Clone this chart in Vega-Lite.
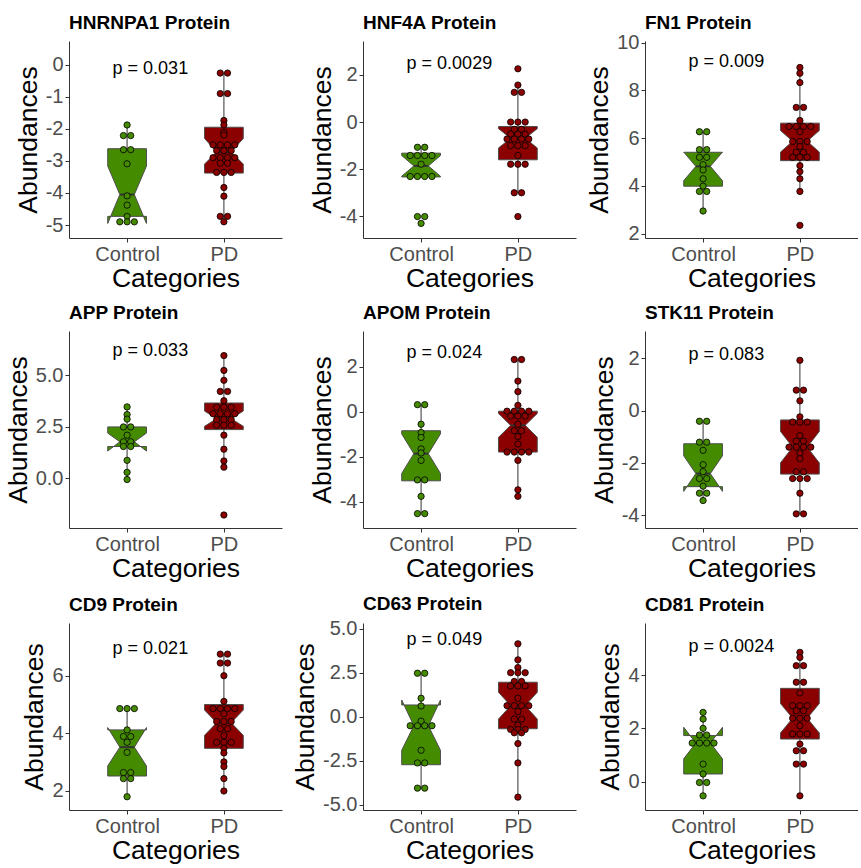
{
"$schema": "https://vega.github.io/schema/vega-lite/v6.json",
"padding": {"left": 5, "top": 13, "right": 0, "bottom": 0},
"datasets": {
"box": [
{"panel":"HNRNPA1","g":"Control","lo":-4.9,"q1":-4.73,"nl":-4.95,"med":-4.05,"nu":-3.16,"q3":-2.62,"hi":-1.88},
{"panel":"HNRNPA1","g":"PD","lo":-4.9,"q1":-3.38,"nl":-3.1,"med":-2.72,"nu":-2.3,"q3":-1.95,"hi":-0.26},
{"panel":"HNF4A","g":"Control","lo":-2.33,"q1":-2.33,"nl":-2.3,"med":-1.86,"nu":-1.42,"q3":-1.32,"hi":-1.07},
{"panel":"HNF4A","g":"PD","lo":-3.0,"q1":-1.6,"nl":-1.1,"med":-0.69,"nu":-0.28,"q3":-0.19,"hi":1.57},
{"panel":"FN1","g":"Control","lo":2.95,"q1":3.99,"nl":4.22,"med":4.82,"nu":5.42,"q3":5.41,"hi":6.27},
{"panel":"FN1","g":"PD","lo":3.77,"q1":5.06,"nl":5.42,"med":5.87,"nu":6.32,"q3":6.63,"hi":8.96},
{"panel":"APP","g":"Control","lo":-0.05,"q1":1.55,"nl":1.33,"med":1.78,"nu":2.2,"q3":2.5,"hi":3.47},
{"panel":"APP","g":"PD","lo":0.55,"q1":2.37,"nl":2.53,"med":2.9,"nu":3.27,"q3":3.66,"hi":5.96},
{"panel":"APOM","g":"Control","lo":-4.53,"q1":-3.07,"nl":-2.74,"med":-1.86,"nu":-0.98,"q3":-0.84,"hi":0.32},
{"panel":"APOM","g":"PD","lo":-3.76,"q1":-1.79,"nl":-1.13,"med":-0.6,"nu":-0.07,"q3":0.03,"hi":2.33},
{"panel":"STK11","g":"Control","lo":-3.43,"q1":-2.9,"nl":-3.08,"med":-2.4,"nu":-1.72,"q3":-1.26,"hi":-0.4},
{"panel":"STK11","g":"PD","lo":-3.94,"q1":-2.42,"nl":-1.99,"med":-1.39,"nu":-0.79,"q3":-0.35,"hi":1.93},
{"panel":"CD9","g":"Control","lo":1.8,"q1":2.52,"nl":2.87,"med":3.52,"nu":4.2,"q3":4.12,"hi":4.86},
{"panel":"CD9","g":"PD","lo":2.0,"q1":3.48,"nl":3.93,"med":4.37,"nu":4.81,"q3":5.0,"hi":6.75},
{"panel":"CD63","g":"Control","lo":-4.05,"q1":-2.72,"nl":-1.9,"med":-0.51,"nu":0.95,"q3":0.67,"hi":2.47},
{"panel":"CD63","g":"PD","lo":-4.56,"q1":-0.68,"nl":-0.13,"med":0.63,"nu":1.39,"q3":1.96,"hi":4.14},
{"panel":"CD81","g":"Control","lo":-0.53,"q1":0.29,"nl":0.86,"med":1.45,"nu":2.04,"q3":1.73,"hi":2.6},
{"panel":"CD81","g":"PD","lo":-0.53,"q1":1.6,"nl":1.83,"med":2.38,"nu":2.93,"q3":3.5,"hi":4.85}
],
"pv": [
{"panel":"HNRNPA1","label":"p = 0.031","y":-0.14},
{"panel":"HNF4A","label":"p = 0.0029","y":2.47},
{"panel":"FN1","label":"p = 0.009","y":9.17},
{"panel":"APP","label":"p = 0.033","y":6.19},
{"panel":"APOM","label":"p = 0.024","y":2.6},
{"panel":"STK11","label":"p = 0.083","y":2.12},
{"panel":"CD9","label":"p = 0.021","y":6.93},
{"panel":"CD63","label":"p = 0.049","y":4.37},
{"panel":"CD81","label":"p = 0.0024","y":5.04}
],
"pts": [
{"panel":"HNRNPA1","g":"Control","y":-1.88},{"panel":"HNRNPA1","g":"Control","y":-2.21},{"panel":"HNRNPA1","g":"Control","y":-2.21},{"panel":"HNRNPA1","g":"Control","y":-2.65},{"panel":"HNRNPA1","g":"Control","y":-2.65},{"panel":"HNRNPA1","g":"Control","y":-3.09},{"panel":"HNRNPA1","g":"Control","y":-4.09},{"panel":"HNRNPA1","g":"Control","y":-4.38},{"panel":"HNRNPA1","g":"Control","y":-4.73},{"panel":"HNRNPA1","g":"Control","y":-4.9},{"panel":"HNRNPA1","g":"Control","y":-4.9},{"panel":"HNRNPA1","g":"Control","y":-4.9},
{"panel":"HNRNPA1","g":"PD","y":-0.26},{"panel":"HNRNPA1","g":"PD","y":-0.26},{"panel":"HNRNPA1","g":"PD","y":-0.9},{"panel":"HNRNPA1","g":"PD","y":-0.9},{"panel":"HNRNPA1","g":"PD","y":-1.74},{"panel":"HNRNPA1","g":"PD","y":-1.88},{"panel":"HNRNPA1","g":"PD","y":-2.11},{"panel":"HNRNPA1","g":"PD","y":-2.19},{"panel":"HNRNPA1","g":"PD","y":-2.5},{"panel":"HNRNPA1","g":"PD","y":-2.5},{"panel":"HNRNPA1","g":"PD","y":-2.5},{"panel":"HNRNPA1","g":"PD","y":-2.5},{"panel":"HNRNPA1","g":"PD","y":-2.68},{"panel":"HNRNPA1","g":"PD","y":-2.68},{"panel":"HNRNPA1","g":"PD","y":-2.68},{"panel":"HNRNPA1","g":"PD","y":-2.9},{"panel":"HNRNPA1","g":"PD","y":-2.9},{"panel":"HNRNPA1","g":"PD","y":-2.9},{"panel":"HNRNPA1","g":"PD","y":-2.9},{"panel":"HNRNPA1","g":"PD","y":-3.07},{"panel":"HNRNPA1","g":"PD","y":-3.07},{"panel":"HNRNPA1","g":"PD","y":-3.36},{"panel":"HNRNPA1","g":"PD","y":-3.36},{"panel":"HNRNPA1","g":"PD","y":-3.36},{"panel":"HNRNPA1","g":"PD","y":-3.83},{"panel":"HNRNPA1","g":"PD","y":-4.1},{"panel":"HNRNPA1","g":"PD","y":-4.73},{"panel":"HNRNPA1","g":"PD","y":-4.73},{"panel":"HNRNPA1","g":"PD","y":-4.9},
{"panel":"HNF4A","g":"Control","y":-1.07},{"panel":"HNF4A","g":"Control","y":-1.07},{"panel":"HNF4A","g":"Control","y":-1.42},{"panel":"HNF4A","g":"Control","y":-1.42},{"panel":"HNF4A","g":"Control","y":-1.42},{"panel":"HNF4A","g":"Control","y":-1.42},{"panel":"HNF4A","g":"Control","y":-1.79},{"panel":"HNF4A","g":"Control","y":-2.31},{"panel":"HNF4A","g":"Control","y":-2.31},{"panel":"HNF4A","g":"Control","y":-2.31},{"panel":"HNF4A","g":"Control","y":-2.31},{"panel":"HNF4A","g":"Control","y":-4.01},{"panel":"HNF4A","g":"Control","y":-4.01},{"panel":"HNF4A","g":"Control","y":-4.3},
{"panel":"HNF4A","g":"PD","y":2.26},{"panel":"HNF4A","g":"PD","y":1.57},{"panel":"HNF4A","g":"PD","y":1.26},{"panel":"HNF4A","g":"PD","y":1.26},{"panel":"HNF4A","g":"PD","y":0},{"panel":"HNF4A","g":"PD","y":0},{"panel":"HNF4A","g":"PD","y":0},{"panel":"HNF4A","g":"PD","y":-0.31},{"panel":"HNF4A","g":"PD","y":-0.31},{"panel":"HNF4A","g":"PD","y":-0.51},{"panel":"HNF4A","g":"PD","y":-0.51},{"panel":"HNF4A","g":"PD","y":-0.51},{"panel":"HNF4A","g":"PD","y":-0.72},{"panel":"HNF4A","g":"PD","y":-0.72},{"panel":"HNF4A","g":"PD","y":-0.72},{"panel":"HNF4A","g":"PD","y":-0.72},{"panel":"HNF4A","g":"PD","y":-1.0},{"panel":"HNF4A","g":"PD","y":-1.0},{"panel":"HNF4A","g":"PD","y":-1.0},{"panel":"HNF4A","g":"PD","y":-1.42},{"panel":"HNF4A","g":"PD","y":-1.79},{"panel":"HNF4A","g":"PD","y":-1.79},{"panel":"HNF4A","g":"PD","y":-1.79},{"panel":"HNF4A","g":"PD","y":-3.0},{"panel":"HNF4A","g":"PD","y":-3.0},{"panel":"HNF4A","g":"PD","y":-4.01},
{"panel":"FN1","g":"Control","y":6.27},{"panel":"FN1","g":"Control","y":6.27},{"panel":"FN1","g":"Control","y":5.52},{"panel":"FN1","g":"Control","y":5.52},{"panel":"FN1","g":"Control","y":5.2},{"panel":"FN1","g":"Control","y":5.2},{"panel":"FN1","g":"Control","y":4.89},{"panel":"FN1","g":"Control","y":4.67},{"panel":"FN1","g":"Control","y":4.3},{"panel":"FN1","g":"Control","y":3.99},{"panel":"FN1","g":"Control","y":3.77},{"panel":"FN1","g":"Control","y":3.77},{"panel":"FN1","g":"Control","y":2.95},
{"panel":"FN1","g":"PD","y":8.96},{"panel":"FN1","g":"PD","y":8.72},{"panel":"FN1","g":"PD","y":8.33},{"panel":"FN1","g":"PD","y":7.29},{"panel":"FN1","g":"PD","y":7.29},{"panel":"FN1","g":"PD","y":6.74},{"panel":"FN1","g":"PD","y":6.49},{"panel":"FN1","g":"PD","y":6.49},{"panel":"FN1","g":"PD","y":6.49},{"panel":"FN1","g":"PD","y":6.49},{"panel":"FN1","g":"PD","y":6.27},{"panel":"FN1","g":"PD","y":5.86},{"panel":"FN1","g":"PD","y":5.86},{"panel":"FN1","g":"PD","y":5.86},{"panel":"FN1","g":"PD","y":5.65},{"panel":"FN1","g":"PD","y":5.41},{"panel":"FN1","g":"PD","y":5.41},{"panel":"FN1","g":"PD","y":5.2},{"panel":"FN1","g":"PD","y":5.2},{"panel":"FN1","g":"PD","y":5.2},{"panel":"FN1","g":"PD","y":4.85},{"panel":"FN1","g":"PD","y":4.6},{"panel":"FN1","g":"PD","y":4.3},{"panel":"FN1","g":"PD","y":3.77},{"panel":"FN1","g":"PD","y":2.35},
{"panel":"APP","g":"Control","y":3.47},{"panel":"APP","g":"Control","y":3.1},{"panel":"APP","g":"Control","y":2.88},{"panel":"APP","g":"Control","y":2.5},{"panel":"APP","g":"Control","y":2.5},{"panel":"APP","g":"Control","y":2.1},{"panel":"APP","g":"Control","y":1.78},{"panel":"APP","g":"Control","y":1.78},{"panel":"APP","g":"Control","y":1.55},{"panel":"APP","g":"Control","y":1.55},{"panel":"APP","g":"Control","y":0.88},{"panel":"APP","g":"Control","y":0.3},{"panel":"APP","g":"Control","y":-0.05},
{"panel":"APP","g":"PD","y":5.96},{"panel":"APP","g":"PD","y":5.24},{"panel":"APP","g":"PD","y":4.76},{"panel":"APP","g":"PD","y":4.22},{"panel":"APP","g":"PD","y":4.22},{"panel":"APP","g":"PD","y":3.77},{"panel":"APP","g":"PD","y":3.46},{"panel":"APP","g":"PD","y":3.46},{"panel":"APP","g":"PD","y":3.46},{"panel":"APP","g":"PD","y":3.14},{"panel":"APP","g":"PD","y":3.14},{"panel":"APP","g":"PD","y":3.14},{"panel":"APP","g":"PD","y":3.14},{"panel":"APP","g":"PD","y":2.85},{"panel":"APP","g":"PD","y":2.85},{"panel":"APP","g":"PD","y":2.85},{"panel":"APP","g":"PD","y":2.58},{"panel":"APP","g":"PD","y":2.58},{"panel":"APP","g":"PD","y":2.58},{"panel":"APP","g":"PD","y":2.1},{"panel":"APP","g":"PD","y":1.42},{"panel":"APP","g":"PD","y":0.85},{"panel":"APP","g":"PD","y":0.55},{"panel":"APP","g":"PD","y":-1.77},
{"panel":"APOM","g":"Control","y":0.32},{"panel":"APOM","g":"Control","y":0.32},{"panel":"APOM","g":"Control","y":-0.55},{"panel":"APOM","g":"Control","y":-0.92},{"panel":"APOM","g":"Control","y":-1.14},{"panel":"APOM","g":"Control","y":-1.65},{"panel":"APOM","g":"Control","y":-1.83},{"panel":"APOM","g":"Control","y":-2.16},{"panel":"APOM","g":"Control","y":-3.03},{"panel":"APOM","g":"Control","y":-3.03},{"panel":"APOM","g":"Control","y":-3.76},{"panel":"APOM","g":"Control","y":-4.53},{"panel":"APOM","g":"Control","y":-4.53},
{"panel":"APOM","g":"PD","y":2.33},{"panel":"APOM","g":"PD","y":2.33},{"panel":"APOM","g":"PD","y":1.37},{"panel":"APOM","g":"PD","y":0.9},{"panel":"APOM","g":"PD","y":0.29},{"panel":"APOM","g":"PD","y":0.03},{"panel":"APOM","g":"PD","y":0.03},{"panel":"APOM","g":"PD","y":0.03},{"panel":"APOM","g":"PD","y":0.03},{"panel":"APOM","g":"PD","y":-0.19},{"panel":"APOM","g":"PD","y":-0.19},{"panel":"APOM","g":"PD","y":-0.19},{"panel":"APOM","g":"PD","y":-0.55},{"panel":"APOM","g":"PD","y":-0.84},{"panel":"APOM","g":"PD","y":-0.84},{"panel":"APOM","g":"PD","y":-1.1},{"panel":"APOM","g":"PD","y":-1.43},{"panel":"APOM","g":"PD","y":-1.79},{"panel":"APOM","g":"PD","y":-1.79},{"panel":"APOM","g":"PD","y":-1.79},{"panel":"APOM","g":"PD","y":-1.79},{"panel":"APOM","g":"PD","y":-2.16},{"panel":"APOM","g":"PD","y":-3.47},{"panel":"APOM","g":"PD","y":-3.76},
{"panel":"STK11","g":"Control","y":-0.4},{"panel":"STK11","g":"Control","y":-0.4},{"panel":"STK11","g":"Control","y":-1.2},{"panel":"STK11","g":"Control","y":-1.2},{"panel":"STK11","g":"Control","y":-1.51},{"panel":"STK11","g":"Control","y":-2.06},{"panel":"STK11","g":"Control","y":-2.33},{"panel":"STK11","g":"Control","y":-2.59},{"panel":"STK11","g":"Control","y":-2.59},{"panel":"STK11","g":"Control","y":-2.88},{"panel":"STK11","g":"Control","y":-3.15},{"panel":"STK11","g":"Control","y":-3.15},{"panel":"STK11","g":"Control","y":-3.43},
{"panel":"STK11","g":"PD","y":1.93},{"panel":"STK11","g":"PD","y":0.79},{"panel":"STK11","g":"PD","y":0.79},{"panel":"STK11","g":"PD","y":0.38},{"panel":"STK11","g":"PD","y":-0.23},{"panel":"STK11","g":"PD","y":-0.43},{"panel":"STK11","g":"PD","y":-0.43},{"panel":"STK11","g":"PD","y":-0.43},{"panel":"STK11","g":"PD","y":-0.95},{"panel":"STK11","g":"PD","y":-1.16},{"panel":"STK11","g":"PD","y":-1.16},{"panel":"STK11","g":"PD","y":-1.39},{"panel":"STK11","g":"PD","y":-1.39},{"panel":"STK11","g":"PD","y":-1.39},{"panel":"STK11","g":"PD","y":-1.39},{"panel":"STK11","g":"PD","y":-1.62},{"panel":"STK11","g":"PD","y":-1.83},{"panel":"STK11","g":"PD","y":-2.33},{"panel":"STK11","g":"PD","y":-2.33},{"panel":"STK11","g":"PD","y":-2.59},{"panel":"STK11","g":"PD","y":-2.59},{"panel":"STK11","g":"PD","y":-2.59},{"panel":"STK11","g":"PD","y":-3.15},{"panel":"STK11","g":"PD","y":-3.94},{"panel":"STK11","g":"PD","y":-3.94},
{"panel":"CD9","g":"Control","y":4.86},{"panel":"CD9","g":"Control","y":4.86},{"panel":"CD9","g":"Control","y":4.86},{"panel":"CD9","g":"Control","y":4.12},{"panel":"CD9","g":"Control","y":3.89},{"panel":"CD9","g":"Control","y":3.89},{"panel":"CD9","g":"Control","y":3.69},{"panel":"CD9","g":"Control","y":3.34},{"panel":"CD9","g":"Control","y":2.64},{"panel":"CD9","g":"Control","y":2.64},{"panel":"CD9","g":"Control","y":2.43},{"panel":"CD9","g":"Control","y":2.43},{"panel":"CD9","g":"Control","y":1.8},
{"panel":"CD9","g":"PD","y":6.75},{"panel":"CD9","g":"PD","y":6.75},{"panel":"CD9","g":"PD","y":6.44},{"panel":"CD9","g":"PD","y":6.44},{"panel":"CD9","g":"PD","y":6.0},{"panel":"CD9","g":"PD","y":5.11},{"panel":"CD9","g":"PD","y":4.86},{"panel":"CD9","g":"PD","y":4.86},{"panel":"CD9","g":"PD","y":4.86},{"panel":"CD9","g":"PD","y":4.86},{"panel":"CD9","g":"PD","y":4.68},{"panel":"CD9","g":"PD","y":4.41},{"panel":"CD9","g":"PD","y":4.41},{"panel":"CD9","g":"PD","y":4.41},{"panel":"CD9","g":"PD","y":4.16},{"panel":"CD9","g":"PD","y":4.16},{"panel":"CD9","g":"PD","y":3.92},{"panel":"CD9","g":"PD","y":3.69},{"panel":"CD9","g":"PD","y":3.69},{"panel":"CD9","g":"PD","y":3.69},{"panel":"CD9","g":"PD","y":3.48},{"panel":"CD9","g":"PD","y":3.32},{"panel":"CD9","g":"PD","y":3.01},{"panel":"CD9","g":"PD","y":2.85},{"panel":"CD9","g":"PD","y":2.43},{"panel":"CD9","g":"PD","y":2.0},
{"panel":"CD63","g":"Control","y":2.47},{"panel":"CD63","g":"Control","y":2.47},{"panel":"CD63","g":"Control","y":1.05},{"panel":"CD63","g":"Control","y":0.61},{"panel":"CD63","g":"Control","y":-0.25},{"panel":"CD63","g":"Control","y":-0.51},{"panel":"CD63","g":"Control","y":-0.51},{"panel":"CD63","g":"Control","y":-0.51},{"panel":"CD63","g":"Control","y":-0.51},{"panel":"CD63","g":"Control","y":-1.9},{"panel":"CD63","g":"Control","y":-2.62},{"panel":"CD63","g":"Control","y":-2.62},{"panel":"CD63","g":"Control","y":-4.05},{"panel":"CD63","g":"Control","y":-4.05},
{"panel":"CD63","g":"PD","y":4.14},{"panel":"CD63","g":"PD","y":3.23},{"panel":"CD63","g":"PD","y":2.79},{"panel":"CD63","g":"PD","y":2.5},{"panel":"CD63","g":"PD","y":2.5},{"panel":"CD63","g":"PD","y":2.5},{"panel":"CD63","g":"PD","y":2.0},{"panel":"CD63","g":"PD","y":2.0},{"panel":"CD63","g":"PD","y":1.75},{"panel":"CD63","g":"PD","y":1.75},{"panel":"CD63","g":"PD","y":1.75},{"panel":"CD63","g":"PD","y":1.05},{"panel":"CD63","g":"PD","y":0.63},{"panel":"CD63","g":"PD","y":0.63},{"panel":"CD63","g":"PD","y":0.63},{"panel":"CD63","g":"PD","y":0.63},{"panel":"CD63","g":"PD","y":0.29},{"panel":"CD63","g":"PD","y":-0.13},{"panel":"CD63","g":"PD","y":-0.13},{"panel":"CD63","g":"PD","y":-0.48},{"panel":"CD63","g":"PD","y":-0.72},{"panel":"CD63","g":"PD","y":-0.72},{"panel":"CD63","g":"PD","y":-0.72},{"panel":"CD63","g":"PD","y":-0.91},{"panel":"CD63","g":"PD","y":-0.91},{"panel":"CD63","g":"PD","y":-1.52},{"panel":"CD63","g":"PD","y":-2.62},{"panel":"CD63","g":"PD","y":-4.56},
{"panel":"CD81","g":"Control","y":2.6},{"panel":"CD81","g":"Control","y":2.35},{"panel":"CD81","g":"Control","y":2.0},{"panel":"CD81","g":"Control","y":1.75},{"panel":"CD81","g":"Control","y":1.75},{"panel":"CD81","g":"Control","y":1.45},{"panel":"CD81","g":"Control","y":1.45},{"panel":"CD81","g":"Control","y":1.45},{"panel":"CD81","g":"Control","y":1.45},{"panel":"CD81","g":"Control","y":0.66},{"panel":"CD81","g":"Control","y":0.29},{"panel":"CD81","g":"Control","y":-0.03},{"panel":"CD81","g":"Control","y":-0.03},{"panel":"CD81","g":"Control","y":-0.53},
{"panel":"CD81","g":"PD","y":4.85},{"panel":"CD81","g":"PD","y":4.66},{"panel":"CD81","g":"PD","y":4.35},{"panel":"CD81","g":"PD","y":4.35},{"panel":"CD81","g":"PD","y":3.73},{"panel":"CD81","g":"PD","y":3.73},{"panel":"CD81","g":"PD","y":3.33},{"panel":"CD81","g":"PD","y":2.85},{"panel":"CD81","g":"PD","y":2.85},{"panel":"CD81","g":"PD","y":2.85},{"panel":"CD81","g":"PD","y":2.66},{"panel":"CD81","g":"PD","y":2.66},{"panel":"CD81","g":"PD","y":2.38},{"panel":"CD81","g":"PD","y":2.38},{"panel":"CD81","g":"PD","y":2.38},{"panel":"CD81","g":"PD","y":2.1},{"panel":"CD81","g":"PD","y":1.79},{"panel":"CD81","g":"PD","y":1.79},{"panel":"CD81","g":"PD","y":1.79},{"panel":"CD81","g":"PD","y":1.41},{"panel":"CD81","g":"PD","y":1.16},{"panel":"CD81","g":"PD","y":1.16},{"panel":"CD81","g":"PD","y":0.66},{"panel":"CD81","g":"PD","y":0.66},{"panel":"CD81","g":"PD","y":-0.53}
]
},
"columns": 3,
"align": "each",
"spacing": {"row": 12, "column": 10},
"concat": [
{"title":{"text":"HNRNPA1 Protein"},"width":213,"height":197,
"encoding":{"x":{"field":"x","type":"quantitative","scale":{"domain":[0.4,2.6]},"axis":{"values":[1,2],"labelExpr":"datum.value==1?'Control':'PD'"},"title":"Categories"},
"y":{"field":"y","type":"quantitative","scale":{"domain":[-5.405,0.74]},"axis":{"values":[-5,-4,-3,-2,-1,0],"labelExpr":"replace(datum.label,'\u2212','-')"},"title":"Abundances"}},
"layer":[
{"data":{"name":"box"},"transform":[{"filter":"datum.panel=='HNRNPA1'"},{"calculate":"datum.g=='Control'?1:2","as":"x"}],"mark":{"type":"rule","stroke":"#333333","strokeWidth":1},"encoding":{"y":{"field":"lo","type":"quantitative","title":"Abundances"},"y2":{"field":"hi"}}},
{"data":{"name":"box"},"transform":[{"filter":"datum.panel=='HNRNPA1'"},{"calculate":"datum.q3","as":"top"},{"fold":["top","q3","nu","med","nl","q1"],"as":["k","y"]},{"calculate":"[-1,1]","as":"side"},{"flatten":["side"]},{"filter":"datum.k!='top' || datum.side>0"},{"calculate":"indexof(['q3','nu','med','nl','q1'],datum.k)","as":"i"},{"calculate":"(datum.g=='Control'?1:2)+(datum.k=='top'?-0.2:datum.side*(datum.k=='med'?0.075:0.2))","as":"x"},{"calculate":"datum.k=='top'?10:(datum.side<0?datum.i:9-datum.i)","as":"o"}],"mark":{"type":"line","stroke":"#4D4D4D","strokeWidth":1},"encoding":{"fill":{"field":"g","scale":{"domain":["Control","PD"],"range":["#458B00","#8B0000"]},"legend":null},"order":{"field":"o","type":"quantitative"}}},
{"data":{"name":"box"},"transform":[{"filter":"datum.panel=='HNRNPA1'"},{"calculate":"(datum.g=='Control'?1:2)-0.075","as":"x"},{"calculate":"datum.x+0.15","as":"x2"}],"mark":{"type":"rule","stroke":"#333333","strokeWidth":2},"encoding":{"y":{"field":"med","type":"quantitative","title":"Abundances"},"x2":{"field":"x2"}}},
{"data":{"name":"pts"},"transform":[{"filter":"datum.panel=='HNRNPA1'"},{"window":[{"op":"count","as":"cnt"},{"op":"row_number","as":"rk"}],"groupby":["g","y"],"frame":[null,null]},{"calculate":"(datum.g=='Control'?1:2)+(datum.rk-(datum.cnt+1)/2)*0.075","as":"x"}],"mark":{"type":"point","filled":true,"stroke":"#000000","strokeWidth":0.8,"size":40,"opacity":1},"encoding":{"fill":{"field":"g","legend":null}}},
{"data":{"name":"pv"},"transform":[{"filter":"datum.panel=='HNRNPA1'"},{"calculate":"0.85","as":"x"}],"mark":{"type":"text","align":"left","baseline":"middle","fontSize":18,"fill":"#000000"},"encoding":{"text":{"field":"label"}}}
]},
{"title":{"text":"HNF4A Protein"},"width":213,"height":197,
"encoding":{"x":{"field":"x","type":"quantitative","scale":{"domain":[0.4,2.6]},"axis":{"values":[1,2],"labelExpr":"datum.value==1?'Control':'PD'"},"title":"Categories"},
"y":{"field":"y","type":"quantitative","scale":{"domain":[-4.92,3.44]},"axis":{"values":[-4,-2,0,2],"labelExpr":"replace(datum.label,'\u2212','-')"},"title":"Abundances"}},
"layer":[
{"data":{"name":"box"},"transform":[{"filter":"datum.panel=='HNF4A'"},{"calculate":"datum.g=='Control'?1:2","as":"x"}],"mark":{"type":"rule","stroke":"#333333","strokeWidth":1},"encoding":{"y":{"field":"lo","type":"quantitative","title":"Abundances"},"y2":{"field":"hi"}}},
{"data":{"name":"box"},"transform":[{"filter":"datum.panel=='HNF4A'"},{"calculate":"datum.q3","as":"top"},{"fold":["top","q3","nu","med","nl","q1"],"as":["k","y"]},{"calculate":"[-1,1]","as":"side"},{"flatten":["side"]},{"filter":"datum.k!='top' || datum.side>0"},{"calculate":"indexof(['q3','nu','med','nl','q1'],datum.k)","as":"i"},{"calculate":"(datum.g=='Control'?1:2)+(datum.k=='top'?-0.2:datum.side*(datum.k=='med'?0.075:0.2))","as":"x"},{"calculate":"datum.k=='top'?10:(datum.side<0?datum.i:9-datum.i)","as":"o"}],"mark":{"type":"line","stroke":"#4D4D4D","strokeWidth":1},"encoding":{"fill":{"field":"g","scale":{"domain":["Control","PD"],"range":["#458B00","#8B0000"]},"legend":null},"order":{"field":"o","type":"quantitative"}}},
{"data":{"name":"box"},"transform":[{"filter":"datum.panel=='HNF4A'"},{"calculate":"(datum.g=='Control'?1:2)-0.075","as":"x"},{"calculate":"datum.x+0.15","as":"x2"}],"mark":{"type":"rule","stroke":"#333333","strokeWidth":2},"encoding":{"y":{"field":"med","type":"quantitative","title":"Abundances"},"x2":{"field":"x2"}}},
{"data":{"name":"pts"},"transform":[{"filter":"datum.panel=='HNF4A'"},{"window":[{"op":"count","as":"cnt"},{"op":"row_number","as":"rk"}],"groupby":["g","y"],"frame":[null,null]},{"calculate":"(datum.g=='Control'?1:2)+(datum.rk-(datum.cnt+1)/2)*0.075","as":"x"}],"mark":{"type":"point","filled":true,"stroke":"#000000","strokeWidth":0.8,"size":40,"opacity":1},"encoding":{"fill":{"field":"g","legend":null}}},
{"data":{"name":"pv"},"transform":[{"filter":"datum.panel=='HNF4A'"},{"calculate":"0.85","as":"x"}],"mark":{"type":"text","align":"left","baseline":"middle","fontSize":18,"fill":"#000000"},"encoding":{"text":{"field":"label"}}}
]},
{"title":{"text":"FN1 Protein","offset":0},"width":213,"height":197,
"encoding":{"x":{"field":"x","type":"quantitative","scale":{"domain":[0.4,2.6]},"axis":{"values":[1,2],"labelExpr":"datum.value==1?'Control':'PD'"},"title":"Categories"},
"y":{"field":"y","type":"quantitative","scale":{"domain":[1.82,10.07]},"axis":{"values":[2,4,6,8,10],"labelExpr":"replace(datum.label,'\u2212','-')"},"title":"Abundances"}},
"layer":[
{"data":{"name":"box"},"transform":[{"filter":"datum.panel=='FN1'"},{"calculate":"datum.g=='Control'?1:2","as":"x"}],"mark":{"type":"rule","stroke":"#333333","strokeWidth":1},"encoding":{"y":{"field":"lo","type":"quantitative","title":"Abundances"},"y2":{"field":"hi"}}},
{"data":{"name":"box"},"transform":[{"filter":"datum.panel=='FN1'"},{"calculate":"datum.q3","as":"top"},{"fold":["top","q3","nu","med","nl","q1"],"as":["k","y"]},{"calculate":"[-1,1]","as":"side"},{"flatten":["side"]},{"filter":"datum.k!='top' || datum.side>0"},{"calculate":"indexof(['q3','nu','med','nl','q1'],datum.k)","as":"i"},{"calculate":"(datum.g=='Control'?1:2)+(datum.k=='top'?-0.2:datum.side*(datum.k=='med'?0.075:0.2))","as":"x"},{"calculate":"datum.k=='top'?10:(datum.side<0?datum.i:9-datum.i)","as":"o"}],"mark":{"type":"line","stroke":"#4D4D4D","strokeWidth":1},"encoding":{"fill":{"field":"g","scale":{"domain":["Control","PD"],"range":["#458B00","#8B0000"]},"legend":null},"order":{"field":"o","type":"quantitative"}}},
{"data":{"name":"box"},"transform":[{"filter":"datum.panel=='FN1'"},{"calculate":"(datum.g=='Control'?1:2)-0.075","as":"x"},{"calculate":"datum.x+0.15","as":"x2"}],"mark":{"type":"rule","stroke":"#333333","strokeWidth":2},"encoding":{"y":{"field":"med","type":"quantitative","title":"Abundances"},"x2":{"field":"x2"}}},
{"data":{"name":"pts"},"transform":[{"filter":"datum.panel=='FN1'"},{"window":[{"op":"count","as":"cnt"},{"op":"row_number","as":"rk"}],"groupby":["g","y"],"frame":[null,null]},{"calculate":"(datum.g=='Control'?1:2)+(datum.rk-(datum.cnt+1)/2)*0.075","as":"x"}],"mark":{"type":"point","filled":true,"stroke":"#000000","strokeWidth":0.8,"size":40,"opacity":1},"encoding":{"fill":{"field":"g","legend":null}}},
{"data":{"name":"pv"},"transform":[{"filter":"datum.panel=='FN1'"},{"calculate":"0.85","as":"x"}],"mark":{"type":"text","align":"left","baseline":"middle","fontSize":18,"fill":"#000000"},"encoding":{"text":{"field":"label"}}}
]},
{"title":{"text":"APP Protein"},"width":213,"height":197,
"encoding":{"x":{"field":"x","type":"quantitative","scale":{"domain":[0.4,2.6]},"axis":{"values":[1,2],"labelExpr":"datum.value==1?'Control':'PD'"},"title":"Categories"},
"y":{"field":"y","type":"quantitative","scale":{"domain":[-2.4,7.15]},"axis":{"values":[0,2.5,5],"format":".1f","labelExpr":"replace(datum.label,'\u2212','-')"},"title":"Abundances"}},
"layer":[
{"data":{"name":"box"},"transform":[{"filter":"datum.panel=='APP'"},{"calculate":"datum.g=='Control'?1:2","as":"x"}],"mark":{"type":"rule","stroke":"#333333","strokeWidth":1},"encoding":{"y":{"field":"lo","type":"quantitative","title":"Abundances"},"y2":{"field":"hi"}}},
{"data":{"name":"box"},"transform":[{"filter":"datum.panel=='APP'"},{"calculate":"datum.q3","as":"top"},{"fold":["top","q3","nu","med","nl","q1"],"as":["k","y"]},{"calculate":"[-1,1]","as":"side"},{"flatten":["side"]},{"filter":"datum.k!='top' || datum.side>0"},{"calculate":"indexof(['q3','nu','med','nl','q1'],datum.k)","as":"i"},{"calculate":"(datum.g=='Control'?1:2)+(datum.k=='top'?-0.2:datum.side*(datum.k=='med'?0.075:0.2))","as":"x"},{"calculate":"datum.k=='top'?10:(datum.side<0?datum.i:9-datum.i)","as":"o"}],"mark":{"type":"line","stroke":"#4D4D4D","strokeWidth":1},"encoding":{"fill":{"field":"g","scale":{"domain":["Control","PD"],"range":["#458B00","#8B0000"]},"legend":null},"order":{"field":"o","type":"quantitative"}}},
{"data":{"name":"box"},"transform":[{"filter":"datum.panel=='APP'"},{"calculate":"(datum.g=='Control'?1:2)-0.075","as":"x"},{"calculate":"datum.x+0.15","as":"x2"}],"mark":{"type":"rule","stroke":"#333333","strokeWidth":2},"encoding":{"y":{"field":"med","type":"quantitative","title":"Abundances"},"x2":{"field":"x2"}}},
{"data":{"name":"pts"},"transform":[{"filter":"datum.panel=='APP'"},{"window":[{"op":"count","as":"cnt"},{"op":"row_number","as":"rk"}],"groupby":["g","y"],"frame":[null,null]},{"calculate":"(datum.g=='Control'?1:2)+(datum.rk-(datum.cnt+1)/2)*0.075","as":"x"}],"mark":{"type":"point","filled":true,"stroke":"#000000","strokeWidth":0.8,"size":40,"opacity":1},"encoding":{"fill":{"field":"g","legend":null}}},
{"data":{"name":"pv"},"transform":[{"filter":"datum.panel=='APP'"},{"calculate":"0.85","as":"x"}],"mark":{"type":"text","align":"left","baseline":"middle","fontSize":18,"fill":"#000000"},"encoding":{"text":{"field":"label"}}}
]},
{"title":{"text":"APOM Protein"},"width":213,"height":197,
"encoding":{"x":{"field":"x","type":"quantitative","scale":{"domain":[0.4,2.6]},"axis":{"values":[1,2],"labelExpr":"datum.value==1?'Control':'PD'"},"title":"Categories"},
"y":{"field":"y","type":"quantitative","scale":{"domain":[-5.17,3.6]},"axis":{"values":[-4,-2,0,2],"labelExpr":"replace(datum.label,'\u2212','-')"},"title":"Abundances"}},
"layer":[
{"data":{"name":"box"},"transform":[{"filter":"datum.panel=='APOM'"},{"calculate":"datum.g=='Control'?1:2","as":"x"}],"mark":{"type":"rule","stroke":"#333333","strokeWidth":1},"encoding":{"y":{"field":"lo","type":"quantitative","title":"Abundances"},"y2":{"field":"hi"}}},
{"data":{"name":"box"},"transform":[{"filter":"datum.panel=='APOM'"},{"calculate":"datum.q3","as":"top"},{"fold":["top","q3","nu","med","nl","q1"],"as":["k","y"]},{"calculate":"[-1,1]","as":"side"},{"flatten":["side"]},{"filter":"datum.k!='top' || datum.side>0"},{"calculate":"indexof(['q3','nu','med','nl','q1'],datum.k)","as":"i"},{"calculate":"(datum.g=='Control'?1:2)+(datum.k=='top'?-0.2:datum.side*(datum.k=='med'?0.075:0.2))","as":"x"},{"calculate":"datum.k=='top'?10:(datum.side<0?datum.i:9-datum.i)","as":"o"}],"mark":{"type":"line","stroke":"#4D4D4D","strokeWidth":1},"encoding":{"fill":{"field":"g","scale":{"domain":["Control","PD"],"range":["#458B00","#8B0000"]},"legend":null},"order":{"field":"o","type":"quantitative"}}},
{"data":{"name":"box"},"transform":[{"filter":"datum.panel=='APOM'"},{"calculate":"(datum.g=='Control'?1:2)-0.075","as":"x"},{"calculate":"datum.x+0.15","as":"x2"}],"mark":{"type":"rule","stroke":"#333333","strokeWidth":2},"encoding":{"y":{"field":"med","type":"quantitative","title":"Abundances"},"x2":{"field":"x2"}}},
{"data":{"name":"pts"},"transform":[{"filter":"datum.panel=='APOM'"},{"window":[{"op":"count","as":"cnt"},{"op":"row_number","as":"rk"}],"groupby":["g","y"],"frame":[null,null]},{"calculate":"(datum.g=='Control'?1:2)+(datum.rk-(datum.cnt+1)/2)*0.075","as":"x"}],"mark":{"type":"point","filled":true,"stroke":"#000000","strokeWidth":0.8,"size":40,"opacity":1},"encoding":{"fill":{"field":"g","legend":null}}},
{"data":{"name":"pv"},"transform":[{"filter":"datum.panel=='APOM'"},{"calculate":"0.85","as":"x"}],"mark":{"type":"text","align":"left","baseline":"middle","fontSize":18,"fill":"#000000"},"encoding":{"text":{"field":"label"}}}
]},
{"title":{"text":"STK11 Protein"},"width":213,"height":197,
"encoding":{"x":{"field":"x","type":"quantitative","scale":{"domain":[0.4,2.6]},"axis":{"values":[1,2],"labelExpr":"datum.value==1?'Control':'PD'"},"title":"Categories"},
"y":{"field":"y","type":"quantitative","scale":{"domain":[-4.48,3.05]},"axis":{"values":[-4,-2,0,2],"labelExpr":"replace(datum.label,'\u2212','-')"},"title":"Abundances"}},
"layer":[
{"data":{"name":"box"},"transform":[{"filter":"datum.panel=='STK11'"},{"calculate":"datum.g=='Control'?1:2","as":"x"}],"mark":{"type":"rule","stroke":"#333333","strokeWidth":1},"encoding":{"y":{"field":"lo","type":"quantitative","title":"Abundances"},"y2":{"field":"hi"}}},
{"data":{"name":"box"},"transform":[{"filter":"datum.panel=='STK11'"},{"calculate":"datum.q3","as":"top"},{"fold":["top","q3","nu","med","nl","q1"],"as":["k","y"]},{"calculate":"[-1,1]","as":"side"},{"flatten":["side"]},{"filter":"datum.k!='top' || datum.side>0"},{"calculate":"indexof(['q3','nu','med','nl','q1'],datum.k)","as":"i"},{"calculate":"(datum.g=='Control'?1:2)+(datum.k=='top'?-0.2:datum.side*(datum.k=='med'?0.075:0.2))","as":"x"},{"calculate":"datum.k=='top'?10:(datum.side<0?datum.i:9-datum.i)","as":"o"}],"mark":{"type":"line","stroke":"#4D4D4D","strokeWidth":1},"encoding":{"fill":{"field":"g","scale":{"domain":["Control","PD"],"range":["#458B00","#8B0000"]},"legend":null},"order":{"field":"o","type":"quantitative"}}},
{"data":{"name":"box"},"transform":[{"filter":"datum.panel=='STK11'"},{"calculate":"(datum.g=='Control'?1:2)-0.075","as":"x"},{"calculate":"datum.x+0.15","as":"x2"}],"mark":{"type":"rule","stroke":"#333333","strokeWidth":2},"encoding":{"y":{"field":"med","type":"quantitative","title":"Abundances"},"x2":{"field":"x2"}}},
{"data":{"name":"pts"},"transform":[{"filter":"datum.panel=='STK11'"},{"window":[{"op":"count","as":"cnt"},{"op":"row_number","as":"rk"}],"groupby":["g","y"],"frame":[null,null]},{"calculate":"(datum.g=='Control'?1:2)+(datum.rk-(datum.cnt+1)/2)*0.075","as":"x"}],"mark":{"type":"point","filled":true,"stroke":"#000000","strokeWidth":0.8,"size":40,"opacity":1},"encoding":{"fill":{"field":"g","legend":null}}},
{"data":{"name":"pv"},"transform":[{"filter":"datum.panel=='STK11'"},{"calculate":"0.85","as":"x"}],"mark":{"type":"text","align":"left","baseline":"middle","fontSize":18,"fill":"#000000"},"encoding":{"text":{"field":"label"}}}
]},
{"title":{"text":"CD9 Protein"},"width":213,"height":187,
"encoding":{"x":{"field":"x","type":"quantitative","scale":{"domain":[0.4,2.6]},"axis":{"values":[1,2],"labelExpr":"datum.value==1?'Control':'PD'"},"title":"Categories"},
"y":{"field":"y","type":"quantitative","scale":{"domain":[1.34,7.83]},"axis":{"values":[2,4,6],"labelExpr":"replace(datum.label,'\u2212','-')"},"title":"Abundances"}},
"layer":[
{"data":{"name":"box"},"transform":[{"filter":"datum.panel=='CD9'"},{"calculate":"datum.g=='Control'?1:2","as":"x"}],"mark":{"type":"rule","stroke":"#333333","strokeWidth":1},"encoding":{"y":{"field":"lo","type":"quantitative","title":"Abundances"},"y2":{"field":"hi"}}},
{"data":{"name":"box"},"transform":[{"filter":"datum.panel=='CD9'"},{"calculate":"datum.q3","as":"top"},{"fold":["top","q3","nu","med","nl","q1"],"as":["k","y"]},{"calculate":"[-1,1]","as":"side"},{"flatten":["side"]},{"filter":"datum.k!='top' || datum.side>0"},{"calculate":"indexof(['q3','nu','med','nl','q1'],datum.k)","as":"i"},{"calculate":"(datum.g=='Control'?1:2)+(datum.k=='top'?-0.2:datum.side*(datum.k=='med'?0.075:0.2))","as":"x"},{"calculate":"datum.k=='top'?10:(datum.side<0?datum.i:9-datum.i)","as":"o"}],"mark":{"type":"line","stroke":"#4D4D4D","strokeWidth":1},"encoding":{"fill":{"field":"g","scale":{"domain":["Control","PD"],"range":["#458B00","#8B0000"]},"legend":null},"order":{"field":"o","type":"quantitative"}}},
{"data":{"name":"box"},"transform":[{"filter":"datum.panel=='CD9'"},{"calculate":"(datum.g=='Control'?1:2)-0.075","as":"x"},{"calculate":"datum.x+0.15","as":"x2"}],"mark":{"type":"rule","stroke":"#333333","strokeWidth":2},"encoding":{"y":{"field":"med","type":"quantitative","title":"Abundances"},"x2":{"field":"x2"}}},
{"data":{"name":"pts"},"transform":[{"filter":"datum.panel=='CD9'"},{"window":[{"op":"count","as":"cnt"},{"op":"row_number","as":"rk"}],"groupby":["g","y"],"frame":[null,null]},{"calculate":"(datum.g=='Control'?1:2)+(datum.rk-(datum.cnt+1)/2)*0.075","as":"x"}],"mark":{"type":"point","filled":true,"stroke":"#000000","strokeWidth":0.8,"size":40,"opacity":1},"encoding":{"fill":{"field":"g","legend":null}}},
{"data":{"name":"pv"},"transform":[{"filter":"datum.panel=='CD9'"},{"calculate":"0.85","as":"x"}],"mark":{"type":"text","align":"left","baseline":"middle","fontSize":18,"fill":"#000000"},"encoding":{"text":{"field":"label"}}}
]},
{"title":{"text":"CD63 Protein","offset":5},"width":213,"height":187,
"encoding":{"x":{"field":"x","type":"quantitative","scale":{"domain":[0.4,2.6]},"axis":{"values":[1,2],"labelExpr":"datum.value==1?'Control':'PD'"},"title":"Categories"},
"y":{"field":"y","type":"quantitative","scale":{"domain":[-5.29,5.32]},"axis":{"values":[-5,-2.5,0,2.5,5],"format":".1f","labelExpr":"replace(datum.label,'\u2212','-')"},"title":"Abundances"}},
"layer":[
{"data":{"name":"box"},"transform":[{"filter":"datum.panel=='CD63'"},{"calculate":"datum.g=='Control'?1:2","as":"x"}],"mark":{"type":"rule","stroke":"#333333","strokeWidth":1},"encoding":{"y":{"field":"lo","type":"quantitative","title":"Abundances"},"y2":{"field":"hi"}}},
{"data":{"name":"box"},"transform":[{"filter":"datum.panel=='CD63'"},{"calculate":"datum.q3","as":"top"},{"fold":["top","q3","nu","med","nl","q1"],"as":["k","y"]},{"calculate":"[-1,1]","as":"side"},{"flatten":["side"]},{"filter":"datum.k!='top' || datum.side>0"},{"calculate":"indexof(['q3','nu','med','nl','q1'],datum.k)","as":"i"},{"calculate":"(datum.g=='Control'?1:2)+(datum.k=='top'?-0.2:datum.side*(datum.k=='med'?0.075:0.2))","as":"x"},{"calculate":"datum.k=='top'?10:(datum.side<0?datum.i:9-datum.i)","as":"o"}],"mark":{"type":"line","stroke":"#4D4D4D","strokeWidth":1},"encoding":{"fill":{"field":"g","scale":{"domain":["Control","PD"],"range":["#458B00","#8B0000"]},"legend":null},"order":{"field":"o","type":"quantitative"}}},
{"data":{"name":"box"},"transform":[{"filter":"datum.panel=='CD63'"},{"calculate":"(datum.g=='Control'?1:2)-0.075","as":"x"},{"calculate":"datum.x+0.15","as":"x2"}],"mark":{"type":"rule","stroke":"#333333","strokeWidth":2},"encoding":{"y":{"field":"med","type":"quantitative","title":"Abundances"},"x2":{"field":"x2"}}},
{"data":{"name":"pts"},"transform":[{"filter":"datum.panel=='CD63'"},{"window":[{"op":"count","as":"cnt"},{"op":"row_number","as":"rk"}],"groupby":["g","y"],"frame":[null,null]},{"calculate":"(datum.g=='Control'?1:2)+(datum.rk-(datum.cnt+1)/2)*0.075","as":"x"}],"mark":{"type":"point","filled":true,"stroke":"#000000","strokeWidth":0.8,"size":40,"opacity":1},"encoding":{"fill":{"field":"g","legend":null}}},
{"data":{"name":"pv"},"transform":[{"filter":"datum.panel=='CD63'"},{"calculate":"0.85","as":"x"}],"mark":{"type":"text","align":"left","baseline":"middle","fontSize":18,"fill":"#000000"},"encoding":{"text":{"field":"label"}}}
]},
{"title":{"text":"CD81 Protein"},"width":213,"height":187,
"encoding":{"x":{"field":"x","type":"quantitative","scale":{"domain":[0.4,2.6]},"axis":{"values":[1,2],"labelExpr":"datum.value==1?'Control':'PD'"},"title":"Categories"},
"y":{"field":"y","type":"quantitative","scale":{"domain":[-1.06,5.95]},"axis":{"values":[0,2,4],"labelExpr":"replace(datum.label,'\u2212','-')"},"title":"Abundances"}},
"layer":[
{"data":{"name":"box"},"transform":[{"filter":"datum.panel=='CD81'"},{"calculate":"datum.g=='Control'?1:2","as":"x"}],"mark":{"type":"rule","stroke":"#333333","strokeWidth":1},"encoding":{"y":{"field":"lo","type":"quantitative","title":"Abundances"},"y2":{"field":"hi"}}},
{"data":{"name":"box"},"transform":[{"filter":"datum.panel=='CD81'"},{"calculate":"datum.q3","as":"top"},{"fold":["top","q3","nu","med","nl","q1"],"as":["k","y"]},{"calculate":"[-1,1]","as":"side"},{"flatten":["side"]},{"filter":"datum.k!='top' || datum.side>0"},{"calculate":"indexof(['q3','nu','med','nl','q1'],datum.k)","as":"i"},{"calculate":"(datum.g=='Control'?1:2)+(datum.k=='top'?-0.2:datum.side*(datum.k=='med'?0.075:0.2))","as":"x"},{"calculate":"datum.k=='top'?10:(datum.side<0?datum.i:9-datum.i)","as":"o"}],"mark":{"type":"line","stroke":"#4D4D4D","strokeWidth":1},"encoding":{"fill":{"field":"g","scale":{"domain":["Control","PD"],"range":["#458B00","#8B0000"]},"legend":null},"order":{"field":"o","type":"quantitative"}}},
{"data":{"name":"box"},"transform":[{"filter":"datum.panel=='CD81'"},{"calculate":"(datum.g=='Control'?1:2)-0.075","as":"x"},{"calculate":"datum.x+0.15","as":"x2"}],"mark":{"type":"rule","stroke":"#333333","strokeWidth":2},"encoding":{"y":{"field":"med","type":"quantitative","title":"Abundances"},"x2":{"field":"x2"}}},
{"data":{"name":"pts"},"transform":[{"filter":"datum.panel=='CD81'"},{"window":[{"op":"count","as":"cnt"},{"op":"row_number","as":"rk"}],"groupby":["g","y"],"frame":[null,null]},{"calculate":"(datum.g=='Control'?1:2)+(datum.rk-(datum.cnt+1)/2)*0.075","as":"x"}],"mark":{"type":"point","filled":true,"stroke":"#000000","strokeWidth":0.8,"size":40,"opacity":1},"encoding":{"fill":{"field":"g","legend":null}}},
{"data":{"name":"pv"},"transform":[{"filter":"datum.panel=='CD81'"},{"calculate":"0.85","as":"x"}],"mark":{"type":"text","align":"left","baseline":"middle","fontSize":18,"fill":"#000000"},"encoding":{"text":{"field":"label"}}}
]}
],
"config": {
"font": "Liberation Sans",
"view": {"stroke": null},
"axis": {"grid": false, "domainColor": "#333333", "tickColor": "#333333", "domainWidth": 1, "tickSize": 4, "labelColor": "#4D4D4D", "titleColor": "#000000", "titleFontWeight": "normal", "labelFont": "Liberation Sans", "titleFont": "Liberation Sans"},
"axisX": {"labelFontSize": 20, "titleFontSize": 26.5, "labelPadding": 2, "titlePadding": 1, "labelAngle": 0, "labelFlush": false},
"axisY": {"labelFontSize": 20, "titleFontSize": 26.5, "labelPadding": 2, "titlePadding": 3},
"title": {"anchor": "start", "frame": "group", "fontSize": 19, "fontWeight": "bold", "font": "Liberation Sans", "offset": 8, "color": "#000000"}
}
}
